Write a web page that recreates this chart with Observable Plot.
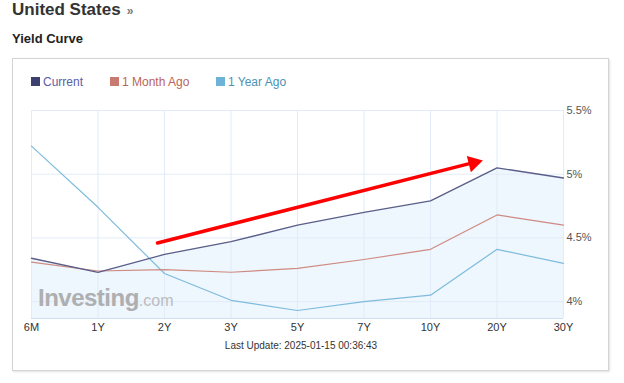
<!DOCTYPE html>
<html>
<head>
<meta charset="utf-8">
<script src="https://cdn.jsdelivr.net/npm/d3@7"></script>
<script src="https://cdn.jsdelivr.net/npm/@observablehq/plot@0.6"></script>
<style>
  html, body { margin: 0; padding: 0; background: #fff; width: 624px; height: 383px; overflow: hidden; font-family: "Liberation Sans", Arial, sans-serif; }
  .abs { position: absolute; white-space: nowrap; }
  #title { left: 12px; top: 0px; font-size: 17px; font-weight: bold; color: #333; }
  #title span { font-size: 12px; color: #777; font-weight: bold; margin-left: 6px; }
  #sub { left: 12px; top: 31px; font-size: 13px; font-weight: bold; color: #222; }
  #box { left: 12px; top: 58px; width: 595px; height: 311px; border: 1px solid #d4d4d4; box-shadow: 1px 1px 2px rgba(0,0,0,0.12); }
  .leg { top: 75px; font-size: 12px; line-height: 14px; }
  .sq { display: inline-block; width: 9px; height: 9px; margin-right: 3px; vertical-align: -0px; }
  #chart { left: 0; top: 100px; }
  #wm { left: 38px; top: 284px; color: #a3a3a3; font-weight: bold; font-size: 24px; letter-spacing: -0.5px; opacity: 0.85; }
  #wm span { font-weight: normal; font-size: 16px; color: #b3b3b3; letter-spacing: 0; }
  #cap { left: 0; width: 602px; text-align: center; top: 340px; font-size: 10px; color: #333; }
</style>
</head>
<body>
<div id="title" class="abs">United States<span>»</span></div>
<div id="sub" class="abs">Yield Curve</div>
<div id="box" class="abs"></div>
<div id="legend"></div>
<div id="chart" class="abs"></div>
<div id="wm" class="abs">Investing<span>.com</span></div>
<div id="cap" class="abs">Last Update: 2025-01-15 00:36:43</div>
<script>
const maturities = ["6M", "1Y", "2Y", "3Y", "5Y", "7Y", "10Y", "20Y", "30Y"];
const current    = [4.34, 4.23, 4.37, 4.47, 4.60, 4.70, 4.79, 5.05, 4.97];
const monthAgo   = [4.31, 4.24, 4.25, 4.23, 4.26, 4.33, 4.41, 4.68, 4.60];
const yearAgo    = [5.22, 4.74, 4.22, 4.01, 3.93, 4.00, 4.05, 4.41, 4.30];
const yTicks     = [4, 4.5, 5, 5.5];
const seriesNames = ["Current", "1 Month Ago", "1 Year Ago"];
// annotation arrow (in maturity-index / yield units)
const arrowX = [1.895, 6.60];
const arrowY = [4.46, 5.085];
const arrowHead = {x: 6.647, y: 5.089};

const lineColors = ["#5b5e88", "#cf8a81", "#7dbcdc"];
const squareColors = ["#3c406e", "#c87a70", "#6db3d7"];
const textColors = ["#5a5ea8", "#bb645a", "#4b91b3"];

// legend
const legendX = [31, 110, 216];
const legend = document.getElementById("legend");
seriesNames.forEach((n, i) => {
  const d = document.createElement("div");
  d.className = "abs leg";
  d.style.left = legendX[i] + "px";
  d.style.color = textColors[i];
  d.innerHTML = `<span class="sq" style="background:${squareColors[i]}"></span>${n}`;
  legend.appendChild(d);
});

const idx = maturities.map((_, i) => i);
const mk = (vals) => idx.map(i => ({x: i, y: vals[i]}));
const yMin = 3.867;

const chart = Plot.plot({
  width: 624,
  height: 240,
  marginLeft: 31,
  marginRight: 61,
  marginTop: 10,
  marginBottom: 22,
  style: {fontFamily: "'Liberation Sans', Arial, sans-serif", background: "transparent", overflow: "visible"},
  x: {type: "linear", domain: [0, maturities.length - 1], ticks: idx, tickFormat: i => maturities[i], label: null},
  y: {domain: [yMin, 5.5], ticks: yTicks, tickFormat: d => d + "%", label: null},
  marks: [
    Plot.areaY(mk(current), {x: "x", y1: yMin, y2: "y", fill: "#eef6fe"}),
    Plot.gridX(idx, {stroke: "#e2ecf8", strokeOpacity: 1}),
    Plot.gridY(yTicks, {stroke: "#e2ecf8", strokeOpacity: 1}),
    Plot.ruleY([yMin], {stroke: "#cddff0"}),
    Plot.line(mk(yearAgo), {x: "x", y: "y", stroke: lineColors[2], strokeWidth: 1.2}),
    Plot.line(mk(monthAgo), {x: "x", y: "y", stroke: lineColors[1], strokeWidth: 1.2}),
    Plot.line(mk(current), {x: "x", y: "y", stroke: lineColors[0], strokeWidth: 1.3}),
    Plot.line(arrowX.map((x, i) => ({x, y: arrowY[i]})), {x: "x", y: "y", stroke: "#ff0000", strokeWidth: 3.5}),
    Plot.dot([arrowHead], {x: "x", y: "y", symbol: "triangle", r: 6.2, fill: "#ff0000", rotate: 75.8}),
    Plot.axisX({ticks: idx, tickFormat: i => maturities[i], tickSize: 0, tickPadding: 5, fontSize: 11, fill: "#333", label: null}),
    Plot.axisY({ticks: yTicks, tickFormat: d => d + "%", anchor: "right", tickSize: 0, tickPadding: 3, fontSize: 11, fill: "#555", label: null})
  ]
});
document.getElementById("chart").appendChild(chart);
</script>
</body>
</html>
